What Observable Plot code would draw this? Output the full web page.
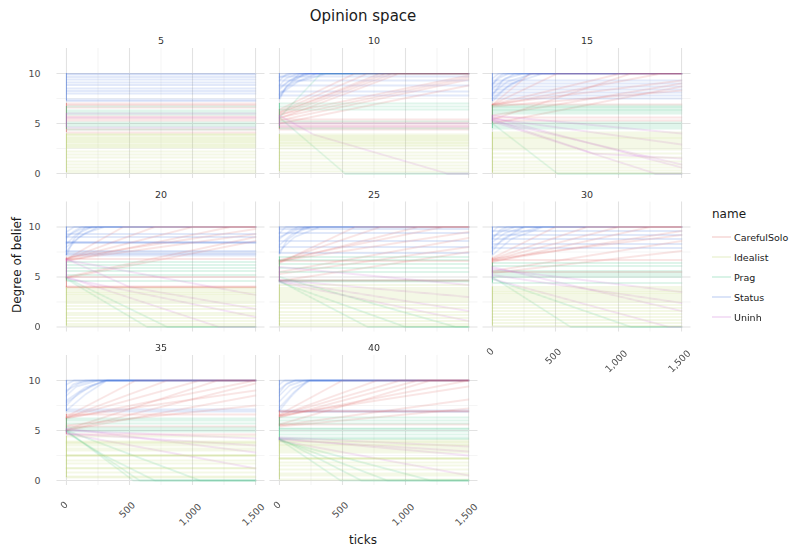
<!DOCTYPE html>
<html><head><meta charset="utf-8">
<script src="https://cdn.jsdelivr.net/npm/d3@7"></script>
<script src="https://cdn.jsdelivr.net/npm/@observablehq/plot@0.6"></script>
<style>
body{margin:0;background:#fff;font-family:"DejaVu Sans",sans-serif;}
#wrap{position:relative;width:791px;height:552px;overflow:hidden;background:#fff}
#chart{position:absolute;left:0;top:0}
.t{position:absolute;white-space:nowrap;color:#1a1a1a;line-height:1}
</style></head><body>
<div id="wrap">
  <div id="chart"></div>
  <div class="t" style="left:363px;top:16px;transform:translate(-50%,-50%);font-size:15px">Opinion space</div>
  <div class="t" style="left:363px;top:540px;transform:translate(-50%,-50%);font-size:12px">ticks</div>
  <div class="t" style="left:17px;top:265px;transform:translate(-50%,-50%) rotate(-90deg);font-size:12px">Degree of belief</div>
  <div id="legend" style="position:absolute;left:712px;top:207px"></div>
</div>
<script>
// ---------- data ----------
const facetIds = [5, 10, 15, 20, 25, 30, 35, 40];
const groupNames = ["CarefulSolo", "Idealist", "Prag", "Status", "Uninh"];
const groupColors = ["#DB5A56", "#B5CF5A", "#2DBE7A", "#3A6CDC", "#C55BD0"];
const xTicks = [0, 500, 1000, 1500];
const xMinor = [250, 750, 1250];
const yTicks = [0, 5, 10];
const yMinor = [2.5, 7.5];
const tickSpan = [-75, 1575];
const beliefSpan = [-0.5, 12.5];

// each line: [group, startValue, tick, value, tick, value, ...] (stays at last value to the end)
const lines5 = [
  [3,10],[3,9.9],[3,9.65],[3,9.4],[3,9.1],[3,8.85],[3,8.5],[3,8.25],[3,8.0],[3,7.4],[3,7.25],
  [0,7.0],[0,6.85],[0,6.6],[0,5.7],[0,5.5],[0,5.3],[0,4.4],[0,4.1],
  [2,6.7],[2,6.3],[2,6.1],[2,5.9],[2,5.1],[2,4.9],[2,4.7],[2,4.4],
  [4,6.0],[4,5.6],[4,4.6],
  [1,3.95],[1,3.85],[1,3.7],[1,3.55],[1,3.4],[1,3.3],[1,3.15],[1,3.0],[1,2.85],[1,2.7],[1,2.6],[1,2.2],[1,1.9],[1,1.6],[1,1.2],[1,0.9],[1,0.6],[1,0.3],[1,0.1]
];
const lines10 = [
  [3,9.3,60,10],[3,8.8,50,9.5,150,10],[3,8.4,80,9.3,250,10],[3,8.0,100,9.0,300,10],[3,7.6,60,8.8,200,10],[3,7.9,150,9.2,380,10],[3,9.6,100,10],[3,7.4,50,8.6,160,10],[3,8.6,120,9.6,220,10],
  [3,9.7],[3,9.3],[3,8.8],[3,8.2],[3,7.8],[3,10],
  [0,6.0,850,10],[0,5.8,900,10],[0,5.5,950,10],[0,6.2,700,10],[0,5.6,1500,9.6],[0,5.3,1500,9.4],[0,5.9,1500,9.8],[0,6.4,600,10],[0,5.0,1500,8.8],[0,6.1,400,8.0,800,10],
  [0,5.4],[0,5.1],[0,4.8],[0,4.6],[0,4.4],
  [2,7.0],[2,6.7],[2,6.4],[2,5.2],[2,4.5],[2,5.6,520,0],[2,5.6,330,10],
  [4,5.8,270,3.9,1330,0],[4,5.0],[4,4.7],
  [1,3.9],[1,3.75],[1,3.6],[1,3.5],[1,3.35],[1,3.2],[1,3.05],[1,2.9],[1,2.75],[1,2.5],[1,2.1],[1,1.8],[1,1.5],[1,1.1],[1,0.8],[1,0.5],[1,0.2]
];
const lines15 = [
  [3,9.5,50,10],[3,9.0,60,9.6,130,10],[3,8.5,100,9.5,250,10],[3,8.0,120,9.2,330,10],[3,7.5,150,9.0,400,10],[3,7.8,80,9.3,180,10],[3,8.8,40,9.6,90,10],[3,7.2,100,8.5,300,10],
  [3,9.3],[3,9.0],[3,8.7],[3,8.4],[3,8.1],[3,7.8],[3,7.5],[3,10],
  [0,6.9,515,10],[0,6.9,1020,10],[0,6.8,1340,10],[0,6.9,1500,9.3],[0,6.7,1500,8.3],[0,5.0,1500,8.7],[0,5.4,1100,10],[0,5.8,1500,9.0],[0,6.9,300,10],
  [0,6.9],[0,5.6],[0,5.3],
  [2,6.8],[2,6.65],[2,6.5],[2,6.35],[2,6.2],[2,6.0],[2,5.1],[2,4.9],[2,4.7],[2,4.5],[2,5.0,515,0],
  [4,5.5,1500,2.9],[4,5.3,1500,0.9],[4,5.6,1500,0.6],[4,5.2,1290,0],[4,5.8,1500,4.0],[4,5.4,800,2.0,1500,1.5],
  [1,4.1],[1,3.9],[1,3.7],[1,3.55],[1,3.4],[1,3.2],[1,3.0],[1,2.8],[1,2.6],[1,2.4],[1,2.0],[1,1.6],[1,1.2],[1,0.9],[1,0.6],[1,0.3],[1,0.05]
];
const lines20 = [
  [3,9.5,60,10],[3,8.9,50,9.5,120,10],[3,8.3,80,9.3,200,10],[3,7.6,100,9.0,250,10],[3,7.2,60,8.8,150,10],[3,9.1,120,9.8,240,10],[3,8.0,150,9.4,300,10],
  [3,8.5],[3,8.45],[3,8.4],[3,7.6],[3,7.45],[3,7.3],[3,7.15],[3,9.3],[3,9.0],[3,10],
  [0,6.8,700,10],[0,6.8,1000,10],[0,6.7,1500,9.3],[0,6.9,1500,9.8],[0,6.6,1300,10],[0,4.9,1500,8.6],[0,5.0,1500,9.0],[0,6.8,450,10],
  [0,4.0],[0,4.05],[0,3.95],[0,5.0],[0,6.8],
  [2,6.5],[2,6.2],[2,5.9],[2,5.6],[2,5.2],[2,4.6],[2,4.8,640,0],[2,4.9,800,0],
  [4,6.8,500,4.0,1500,1.8],[4,5.0,1210,0],[4,6.7,1500,3.2],[4,4.9,1500,1.0],
  [1,3.9],[1,3.7],[1,3.5],[1,3.35],[1,3.2],[1,3.0],[1,2.8],[1,2.6],[1,2.4],[1,2.1],[1,1.8],[1,1.4],[1,1.2],[1,0.9],[1,0.6],[1,0.3],[1,0.1]
];
const lines25 = [
  [3,9.4,50,10],[3,8.8,80,9.6,150,10],[3,8.2,100,9.3,250,10],[3,7.6,120,9.0,320,10],[3,7.3,60,8.7,200,10],[3,9.0,150,9.8,280,10],
  [3,9.8],[3,9.4],[3,8.6],[3,8.0],[3,7.4],[3,10],
  [0,6.6,800,10],[0,6.5,1100,10],[0,6.6,1500,9.5],[0,5.5,1500,8.9],[0,5.3,1500,8.0],[0,6.4,600,10],[0,4.6,1500,7.5],[0,6.7,1300,10],
  [0,6.6],[0,4.6],[0,4.7],
  [2,7.0],[2,6.7],[2,6.3],[2,5.9],[2,5.5],[2,4.65],[2,4.55],[2,4.6,700,0],[2,4.5,1000,0],[2,5.0,1400,0],
  [4,4.6,1500,1.6],[4,4.7,1500,3.0],[4,4.5,1500,0.6],[4,6.0,1500,4.2],
  [1,4.2],[1,3.9],[1,3.7],[1,3.5],[1,3.3],[1,3.1],[1,2.9],[1,2.7],[1,2.5],[1,2.2],[1,1.9],[1,1.5],[1,1.2],[1,0.9],[1,0.6],[1,0.3],[1,0.1]
];
const lines30 = [
  [3,9.5,40,10],[3,9.0,80,9.6,180,10],[3,8.5,100,9.4,260,10],[3,8.0,150,9.2,380,10],[3,7.6,80,8.8,250,10],[3,7.2,150,8.8,400,10],[3,8.8,60,9.7,120,10],
  [3,9.6],[3,9.2],[3,8.8],[3,8.3],[3,7.9],[3,10],
  [0,6.8,750,10],[0,6.7,1000,10],[0,6.6,1500,9.6],[0,6.8,1500,9.2],[0,5.6,1500,8.6],[0,5.4,1500,7.6],[0,6.9,500,10],[0,6.5,1250,10],
  [0,6.7],[0,5.5],
  [2,6.4],[2,6.1],[2,5.6],[2,5.4],[2,5.2],[2,5.0],[2,4.4],[2,5.0,620,0],[2,4.8,1100,0],
  [4,6.0,1500,1.6],[4,5.8,1500,3.5],[4,5.2,1500,2.4],[4,4.8,1400,0],
  [1,4.0],[1,3.8],[1,3.6],[1,3.45],[1,3.3],[1,3.1],[1,2.9],[1,2.7],[1,2.5],[1,2.2],[1,1.9],[1,1.6],[1,1.3],[1,1.0],[1,0.7],[1,0.4],[1,0.1]
];
const lines35 = [
  [3,9.6,60,10],[3,9.0,100,9.7,200,10],[3,8.5,80,9.4,250,10],[3,8.0,150,9.3,325,10],[3,7.5,100,8.8,300,10],[3,7.0,150,8.6,320,10],[3,8.8,50,9.6,150,10],[3,7.8,200,9.5,320,10],
  [3,7.1],[3,6.9],[3,10],
  [0,6.3,800,10],[0,6.3,1060,10],[0,6.2,1500,10],[0,6.3,1500,9.0],[0,5.0,1500,9.7],[0,5.0,1500,8.5],[0,5.1,1200,10],[0,6.4,550,10],[0,5.5,1500,7.5],
  [0,6.6],[0,5.4],[0,4.6],
  [2,6.2],[2,6.0],[2,5.7],[2,5.3],[2,5.1],[2,4.9],[2,5.0,530,0],[2,4.9,580,0],[2,5.0,1060,0],[2,4.8,300,2.5,700,0],
  [4,4.7,1500,3.5],[4,4.7,1500,1.2],[4,5.0,1500,4.2],[4,5.2,1500,2.8],
  [1,4.4],[1,3.9],[1,3.8],[1,3.7],[1,3.5],[1,3.2],[1,3.0],[1,2.55],[1,2.5],[1,2.45],[1,2.0],[1,1.7],[1,1.25],[1,1.2],[1,0.8],[1,0.4],[1,0.3]
];
const lines40 = [
  [3,9.6,40,10],[3,9.1,60,9.7,130,10],[3,8.5,80,9.5,200,10],[3,7.9,100,9.2,246,10],[3,7.3,120,8.9,240,10],[3,7.0,100,8.5,220,10],[3,8.8,50,9.6,120,10],
  [3,7.0],[3,6.85],[3,10],
  [0,6.5,775,10],[0,6.5,960,10],[0,6.4,1500,10],[0,6.5,1500,9.4],[0,5.5,1500,8.1],[0,5.6,1200,10],[0,6.6,500,10],[0,5.4,1500,7.2],[0,6.3,1100,10],
  [0,6.9],[0,6.95],[0,5.6],
  [2,6.3],[2,6.0],[2,5.7],[2,5.2],[2,5.15],[2,4.9],[2,4.6],[2,4.3],[2,4.15],[2,4.1,484,0],[2,4.2,650,0],[2,4.1,855,0],[2,4.0,1200,0],
  [4,4.1,1500,2.9],[4,4.2,1500,2.5],[4,4.0,1500,0.5],[4,4.3,1500,3.4],
  [1,4.0],[1,3.85],[1,3.7],[1,3.55],[1,3.4],[1,3.2],[1,3.0],[1,2.8],[1,2.25],[1,2.2],[1,2.15],[1,1.8],[1,1.5],[1,1.1],[1,0.7],[1,0.5],[1,0.1]
];
const facetLines = [lines5, lines10, lines15, lines20, lines25, lines30, lines35, lines40];

// ---------- build tables ----------
const ncol = 3;
const tickEnd = xTicks[xTicks.length - 1];
const panels = facetIds.map((f, i) => ({facet: f, col: i % ncol, row: Math.floor(i / ncol), i}));
const pts = [];
const starts = [];
facetLines.forEach((ls, i) => {
  const p = panels[i];
  ls.forEach((L, j) => {
    const name = groupNames[L[0]];
    const seq = [[0, L[1]]];
    for (let m = 2; m < L.length; m += 2) seq.push([L[m], L[m + 1]]);
    if (seq[seq.length - 1][0] < tickEnd) seq.push([tickEnd, seq[seq.length - 1][1]]);
    seq.forEach(([t, v]) => pts.push({col: p.col, row: p.row, id: p.facet + "-" + j, name, tick: t, value: v}));
    starts.push({col: p.col, row: p.row, name, v: L[1]});
  });
});
const startRanges = d3.flatRollup(starts, g => d3.extent(g, d => d.v), d => d.col, d => d.row, d => d.name)
  .map(([col, row, name, [lo, hi]]) => ({col, row, name, lo, hi}));

const bottomPanels = panels.filter(p => p.i + ncol >= panels.length);
const cross = (arr, vals) => arr.flatMap(p => vals.map(v => ({col: p.col, row: p.row, v})));
const gxMajor = cross(panels, xTicks), gxMinor = cross(panels, xMinor);
const gyMajor = cross(panels, yTicks), gyMinor = cross(panels, yMinor);
const yLab = cross(panels.filter(p => p.col === 0), yTicks);
const fmt = d3.format(",");

const labelColor = "#4d4d4d";
const xLabelMarks = xTicks.map(t => {
  const s = fmt(t);
  return Plot.text(cross(bottomPanels, [t]), {
    x: "v", fx: "col", fy: "row", text: d => fmt(d.v), frameAnchor: "bottom",
    rotate: -45, textAnchor: "middle", dy: 19.5 + 2.4 * s.length,
    fontSize: 9.5, fill: labelColor, fontWeight: "normal"
  });
});

const chart = Plot.plot({
  width: 791, height: 552,
  marginLeft: 56.5, marginRight: 100.5, marginTop: 48, marginBottom: 67,
  facet: {marginTop: 0, marginRight: 0, marginBottom: 0, marginLeft: 0},
  style: {background: "transparent", fontFamily: "DejaVu Sans"},
  fx: {domain: [0, 1, 2], paddingInner: 0.0235, paddingOuter: 0, axis: null, round: false},
  fy: {domain: [0, 1, 2], paddingInner: 0.153, paddingOuter: 0, axis: null, round: false},
  x: {domain: tickSpan, axis: null},
  y: {domain: beliefSpan, axis: null},
  color: {domain: groupNames, range: groupColors},
  marks: [
    Plot.ruleX(gxMinor, {x: "v", fx: "col", fy: "row", stroke: "#efefef", strokeWidth: 0.7}),
    Plot.ruleY(gyMinor, {y: "v", fx: "col", fy: "row", stroke: "#efefef", strokeWidth: 0.7}),
    Plot.ruleX(gxMajor, {x: "v", fx: "col", fy: "row", stroke: "#e2e2e2", strokeWidth: 1.1}),
    Plot.ruleY(gyMajor, {y: "v", fx: "col", fy: "row", stroke: "#e2e2e2", strokeWidth: 1.1}),
    Plot.line(pts, {x: "tick", y: "value", z: "id", stroke: "name", fx: "col", fy: "row",
      strokeOpacity: 0.3, strokeWidth: 1.0}),
    Plot.ruleX(startRanges, {x: () => xTicks[0], y1: "lo", y2: "hi", stroke: "name", fx: "col", fy: "row",
      strokeOpacity: 0.5, strokeWidth: 1.1}),
    Plot.text(panels, {text: d => String(d.facet), fx: "col", fy: "row", frameAnchor: "top", dy: -11,
      fontSize: 9.5, fill: "#333333", fontWeight: "normal"}),
    Plot.text(yLab, {y: "v", text: d => String(d.v), fx: "col", fy: "row", frameAnchor: "left",
      dx: -16.5, textAnchor: "end", fontSize: 9.5, fill: labelColor, fontWeight: "normal"}),
    ...xLabelMarks
  ]
});
document.getElementById("chart").appendChild(chart);
// soften the trajectories a little, like the antialiased reference
chart.querySelectorAll('g[aria-label="line"]').forEach(g => g.style.filter = "blur(0.25px)");

// ---------- legend ----------
const lg = document.getElementById("legend");
let html = '<div style="font-size:12px;color:#1a1a1a;margin-bottom:6px">name</div>';
groupNames.forEach((n, k) => {
  html += '<div style="display:flex;align-items:center;height:20px">' +
    '<svg width="19" height="10"><line x1="0" x2="19" y1="5" y2="5" stroke="' + groupColors[k] +
    '" stroke-opacity="0.3" stroke-width="1.2"/></svg>' +
    '<span style="font-size:9.5px;color:#1a1a1a;margin-left:3px">' + n + '</span></div>';
});
lg.innerHTML = html;
</script>
</body></html>
